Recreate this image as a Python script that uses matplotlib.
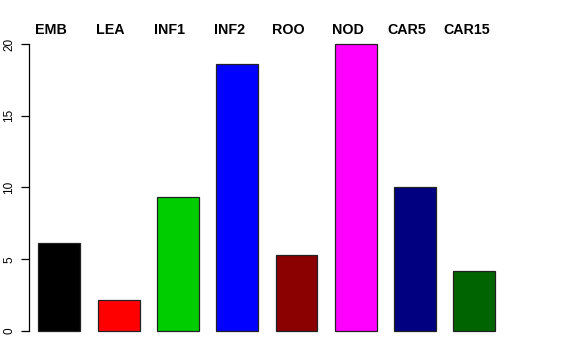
import matplotlib
matplotlib.use('Agg')
import matplotlib.pyplot as plt

plt.rcParams['font.family'] = ['Liberation Sans', 'DejaVu Sans']

tissues = ['EMB', 'LEA', 'INF1', 'INF2', 'ROO', 'NOD', 'CAR5', 'CAR15']
values = [6.14, 2.13, 9.32, 18.6, 5.28, 20.0, 10.05, 4.17]
colors = ['#000000', '#FF0000', '#00CD00', '#0000FF', '#8B0000', '#FF00FF', '#000080', '#006400']
yticks = [0, 5, 10, 15, 20]

fig = plt.figure(figsize=(5.76, 3.6), dpi=100)
# axes placed in pixel terms: left edge at the y axis line
ax = fig.add_axes([29 / 576, 1 - 342.5 / 360, (519 - 29) / 576, (342.5 - 32.5) / 360])

x = list(range(len(tissues)))
ax.bar(x, values, width=0.708, color=colors, edgecolor='#222222', linewidth=0.9)

ax.set_xlim(-0.511, 7.752)
ax.set_ylim(-0.8, 20.8)

for i, name in enumerate(tissues):
    ax.text(i - 0.135, 0.995, name, transform=ax.get_xaxis_transform(),
            ha='center', va='baseline', fontsize=10.3, fontweight='bold')

for s in ['top', 'right', 'bottom']:
    ax.spines[s].set_visible(False)
ax.spines['left'].set_bounds(0, 20)
ax.spines['left'].set_linewidth(0.9)
ax.set_xticks([])
ax.set_yticks(yticks)
ax.set_yticklabels([str(t) for t in yticks], rotation=90, va='center', fontsize=8.5)
ax.tick_params(axis='y', length=6, width=0.9, pad=4)

fig.savefig('out.png', dpi=100)
